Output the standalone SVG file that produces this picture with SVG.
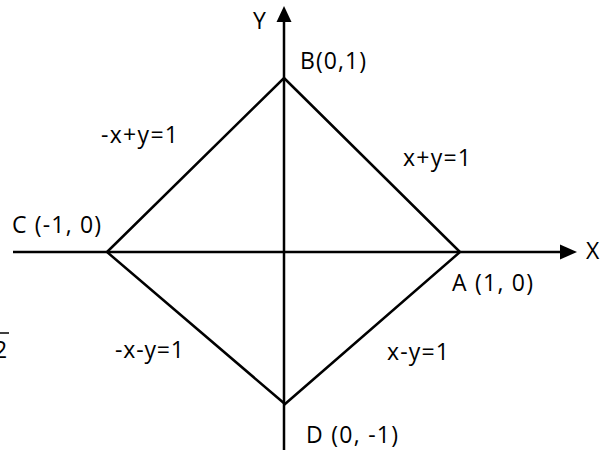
<svg xmlns="http://www.w3.org/2000/svg" width="600" height="450" viewBox="0 0 600 450">
<style>
.t{font-family:"Open Sans","Liberation Sans",sans-serif;font-size:23px;fill:#000}
.ln{stroke:#000;stroke-width:2.5;fill:none}
.ah{fill:#000}
</style>
<rect width="600" height="450" fill="#fff"/>
<g id="connectors">
<line class="ln" x1="13" y1="252" x2="562" y2="252"/>
<polygon class="ah" points="560,244.5 577,252 560,259.5"/>
<line class="ln" x1="284" y1="450" x2="284" y2="20"/>
<polygon class="ah" points="276.5,22 284,6 291.5,22"/>
<polygon class="ln" points="284,78 460,252 285,404 107,252"/>
</g>
<g id="axis-y"><text class="t" x="253" y="29">Y</text></g>
<g id="axis-x"><text class="t" x="586" y="259">X</text></g>
<g id="node-B"><text class="t" x="300" y="69" textLength="66">B(0,1)</text></g>
<g id="node-C"><text class="t" x="12" y="233" textLength="89">C (-1, 0)</text></g>
<g id="node-A"><text class="t" x="452" y="291" textLength="81">A (1, 0)</text></g>
<g id="node-D"><text class="t" x="306" y="443" textLength="92">D (0, -1)</text></g>
<g id="edge-CB"><text class="t" x="101" y="143" textLength="77">-x+y=1</text></g>
<g id="edge-BA"><text class="t" x="403" y="166" textLength="68">x+y=1</text></g>
<g id="edge-CD"><text class="t" x="115" y="358" textLength="69">-x-y=1</text></g>
<g id="edge-DA"><text class="t" x="387" y="360" textLength="62">x-y=1</text></g>
<g id="fragment"><text class="t" x="-6" y="358">2</text><line x1="0" y1="333" x2="9" y2="333" stroke="#000" stroke-width="1.5"/></g>
</svg>
